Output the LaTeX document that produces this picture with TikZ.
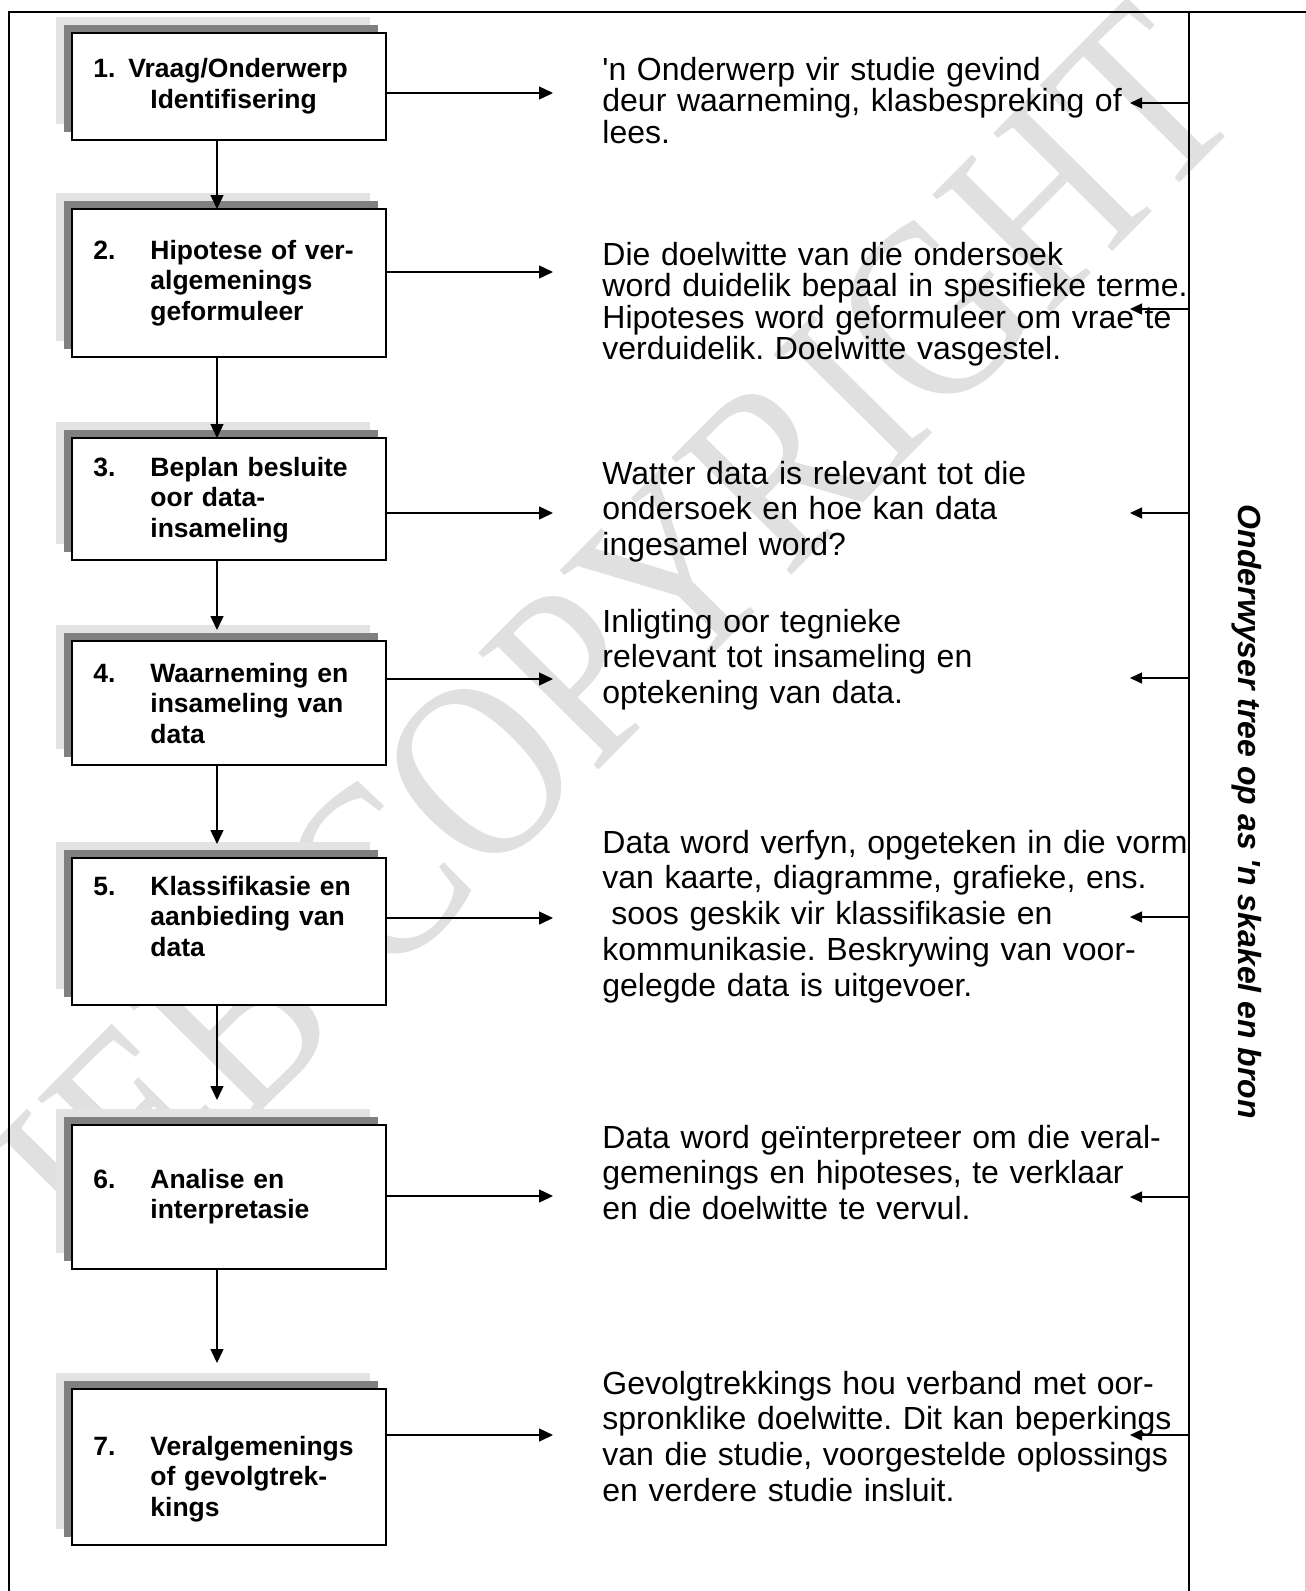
\documentclass[tikz,border=0pt]{standalone}
\usepackage{fontspec}
\setmainfont{Liberation Sans}
\newfontfamily\wmfont[FakeStretch=0.84]{Liberation Serif}
\usetikzlibrary{arrows.meta,shadows}
\definecolor{shadeLight}{RGB}{227,227,227}
\definecolor{shadeDark}{RGB}{128,128,128}
\definecolor{wmgray}{RGB}{224,224,224}
\begin{document}
\begin{tikzpicture}[x=0.5pt,y=-0.5pt,
  stepbox/.style={draw=black, line width=1pt, fill=white, rectangle, inner sep=0pt,
    minimum width=157pt,
    general shadow={fill=shadeLight, shadow xshift=-8pt, shadow yshift=8pt},
    general shadow={fill=shadeDark, shadow xshift=-4pt, shadow yshift=4pt}},
  boxtxt/.style={anchor=base west, inner sep=0pt, align=left, text width=118pt,
    font=\bfseries\fontsize{13.25}{15.25}\selectfont},
  numtxt/.style={anchor=base west, inner sep=0pt,
    font=\bfseries\fontsize{13.25}{15.25}\selectfont},
  bodytxt/.style={anchor=base west, inner sep=0pt, align=left, text width=300pt,
    font=\frenchspacing\fontsize{16}{17.9}\selectfont},
  bodytight/.style={bodytxt, font=\frenchspacing\fontsize{16}{15.75}\selectfont},
  arr/.style={line width=0.7pt, -{Triangle[length=7pt,width=6.5pt]}},
  larr/.style={line width=0.7pt, -{Triangle[length=6pt,width=5.5pt]}},
  frameline/.style={line width=1.2pt},
  sepline/.style={line width=1pt}]
\useasboundingbox (0,0) rectangle (1306,1591);

% watermark
\node[rotate=45.3, text=wmgray, inner sep=0pt, font=\wmfont\fontsize{128}{128}\selectfont] (wm) at (616,634) {IEB COPYRIGHT};

% frame
\coordinate (tl) at (9,12);
\coordinate (tr) at (1306,12);
\coordinate (bl) at (9,1591);
\coordinate (st) at (1189,12);
\coordinate (sb) at (1189,1591);
\coordinate (rt) at (1305,12);
\coordinate (rb) at (1305,1591);
\draw[gray!35, line width=0.5pt] (rt) -- (rb);
\draw[frameline] (bl) -- (tl) -- (tr);
\draw[sepline] (st) -- (sb);

% boxes
\node[stepbox, minimum height=53.5pt] (b1) at (229,86.5) {};
\node[stepbox, minimum height=74pt]   (b2) at (229,283) {};
\node[stepbox, minimum height=61pt]   (b3) at (229,499) {};
\node[stepbox, minimum height=62pt]   (b4) at (229,703) {};
\node[stepbox, minimum height=73.5pt] (b5) at (229,931.5) {};
\node[stepbox, minimum height=72pt]   (b6) at (229,1197) {};
\node[stepbox, minimum height=78pt]   (b7) at (229,1467) {};

% box texts
\node[numtxt] (n1) at (93,77) {1.};
\node[numtxt] (t1a) at (128,77) {Vraag/Onderwerp};
\node[numtxt] (t1b) at (150,108) {Identifisering};
\node[numtxt] (n2) at (93,259) {2.};
\node[boxtxt] (t2) at (150,259) {Hipotese of ver-\\algemenings\\geformuleer};
\node[numtxt] (n3) at (93,476) {3.};
\node[boxtxt] (t3) at (150,476) {Beplan besluite\\oor data-\\insameling};
\node[numtxt] (n4) at (93,682) {4.};
\node[boxtxt] (t4) at (150,682) {Waarneming en\\insameling van\\data};
\node[numtxt] (n5) at (93,895) {5.};
\node[boxtxt] (t5) at (150,895) {Klassifikasie en\\aanbieding van\\data};
\node[numtxt] (n6) at (93,1188) {6.};
\node[boxtxt] (t6) at (150,1188) {Analise en\\interpretasie};
\node[numtxt] (n7) at (93,1455) {7.};
\node[boxtxt] (t7) at (150,1455) {Veralgemenings\\of gevolgtrek-\\kings};

% down arrows
\coordinate (d2) at (217,209);
\coordinate (d3) at (217,438);
\coordinate (d4) at (217,630);
\coordinate (d5) at (217,844);
\coordinate (d6) at (217,1100);
\coordinate (d7) at (217,1363);
\draw[arr] (b1.south -| d2) -- (d2);
\draw[arr] (b2.south -| d3) -- (d3);
\draw[arr] (b3.south -| d4) -- (d4);
\draw[arr] (b4.south -| d5) -- (d5);
\draw[arr] (b5.south -| d6) -- (d6);
\draw[arr] (b6.south -| d7) -- (d7);

% right arrows
\coordinate (r1) at (553,93);
\coordinate (r2) at (553,272);
\coordinate (r3) at (553,513);
\coordinate (r4) at (553,679);
\coordinate (r5) at (553,918);
\coordinate (r6) at (553,1196);
\coordinate (r7) at (553,1435);
\draw[arr] (b1.east |- r1) -- (r1);
\draw[arr] (b2.east |- r2) -- (r2);
\draw[arr] (b3.east |- r3) -- (r3);
\draw[arr] (b4.east |- r4) -- (r4);
\draw[arr] (b5.east |- r5) -- (r5);
\draw[arr] (b6.east |- r6) -- (r6);
\draw[arr] (b7.east |- r7) -- (r7);

% body texts
\node[bodytight] (p1) at (602,80) {\textquotesingle n Onderwerp vir studie gevind\\deur waarneming, klasbespreking of\\lees.};
\node[bodytight] (p2) at (602,265) {Die doelwitte van die ondersoek\\word duidelik bepaal in spesifieke terme.\\Hipoteses word geformuleer om vrae te\\verduidelik. Doelwitte vasgestel.};
\node[bodytxt] (p3) at (602,484) {Watter data is relevant tot die\\ondersoek en hoe kan data\\ingesamel word?};
\node[bodytxt] (p4) at (602,632) {Inligting oor tegnieke\\relevant tot insameling en\\optekening van data.};
\node[bodytxt] (p5) at (602,853) {Data word verfyn, opgeteken in die vorm\\van kaarte, diagramme, grafieke, ens.\\\hspace*{4.5pt}soos geskik vir klassifikasie en\\kommunikasie. Beskrywing van voor-\\gelegde data is uitgevoer.};
\node[bodytxt] (p6) at (602,1148) {Data word geïnterpreteer om die veral-\\gemenings en hipoteses, te verklaar\\en die doelwitte te vervul.};
\node[bodytxt] (p7) at (602,1394) {Gevolgtrekkings hou verband met oor-\\spronklike doelwitte. Dit kan beperkings\\van die studie, voorgestelde oplossings\\en verdere studie insluit.};

% left arrows
\coordinate (l1) at (1130,103);
\coordinate (l2) at (1130,309);
\coordinate (l3) at (1130,513);
\coordinate (l4) at (1130,678);
\coordinate (l5) at (1130,917);
\coordinate (l6) at (1130,1197);
\coordinate (l7) at (1130,1435);
\draw[larr] (st |- l1) -- (l1);
\draw[larr] (st |- l2) -- (l2);
\draw[larr] (st |- l3) -- (l3);
\draw[larr] (st |- l4) -- (l4);
\draw[larr] (st |- l5) -- (l5);
\draw[larr] (st |- l6) -- (l6);
\draw[larr] (st |- l7) -- (l7);

% side label
\node[rotate=-90, inner sep=0pt, font=\bfseries\itshape\fontsize{16}{18}\selectfont] (side) at (1247,812) {Onderwyser tree op as \textquotesingle n skakel en bron};
\end{tikzpicture}
\end{document}
